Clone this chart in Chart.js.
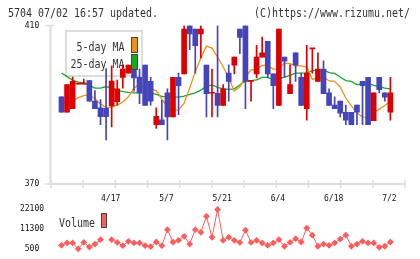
<!DOCTYPE html>
<html>
<head>
<meta charset="utf-8">
<script src="https://cdn.jsdelivr.net/npm/chart.js@4.4.1/dist/chart.umd.min.js"></script>
<style>
  html, body { margin: 0; padding: 0; background: #fff; }
  #wrap { position: relative; width: 420px; height: 259px; }
  #wrap canvas { position: absolute; left: 0; top: 0; }
</style>
</head>
<body>
<div id="wrap">
  <canvas id="price" width="420" height="259"></canvas>
  <canvas id="vol" width="420" height="259"></canvas>
</div>
<script>
const MONO = '"DejaVu Sans Mono", monospace';

// daily candles, 60 sessions
const opens  = [392.0, 388.1, 389.0, 395.2, 395.2, 396.1, 390.9, 389.2, 389.1, 389.7,
                390.8, 396.9, 398.0, 400.0, 396.9, 400.0, 395.9, 385.0, 386.2, 393.0,
                386.9, 396.9, 397.8, 410.0, 409.1, 407.9, 400.0, 392.9, 392.9, 389.8,
                398.0, 400.0, 409.1, 410.0, 395.9, 397.8, 402.0, 406.0, 397.8, 389.8,
                402.0, 392.8, 403.1, 396.9, 389.0, 404.1, 395.9, 399.0, 393.0, 389.9,
                390.9, 388.1, 388.1, 389.9, 395.9, 396.9, 386.0, 396.9, 393.0, 388.1];
const highs  = [392.0, 395.1, 397.0, 395.2, 396.5, 396.1, 393.6, 391.3, 399.1, 399.8,
                396.2, 400.1, 400.0, 400.0, 399.0, 400.0, 396.9, 389.2, 391.1, 394.0,
                396.9, 398.0, 410.0, 410.0, 409.1, 410.0, 400.0, 399.0, 410.0, 395.1,
                400.1, 402.0, 409.1, 410.0, 395.9, 405.0, 407.1, 406.0, 397.8, 409.1,
                402.0, 400.1, 403.1, 398.0, 405.0, 404.1, 403.1, 401.1, 394.0, 392.0,
                390.9, 389.9, 388.1, 389.9, 395.9, 396.9, 393.0, 396.9, 393.0, 396.9];
const lows   = [388.1, 388.1, 389.0, 395.2, 395.2, 390.9, 389.0, 385.0, 381.1, 384.4,
                389.9, 394.2, 398.0, 393.4, 390.3, 389.8, 389.9, 384.0, 385.0, 381.1,
                386.9, 387.5, 397.8, 403.9, 398.0, 401.8, 386.9, 386.9, 386.9, 389.8,
                390.9, 397.8, 402.9, 389.0, 390.9, 396.8, 402.0, 396.8, 389.0, 389.8,
                396.9, 392.8, 395.9, 389.8, 386.1, 398.0, 395.9, 392.8, 389.8, 389.0,
                386.9, 385.0, 385.0, 385.0, 385.0, 385.0, 386.0, 393.0, 390.9, 386.1];
const closes = [388.1, 395.1, 395.9, 395.2, 395.2, 390.9, 389.0, 387.0, 387.0, 396.0,
                394.0, 399.0, 400.0, 396.8, 393.0, 389.8, 390.9, 387.1, 385.0, 386.9,
                396.9, 394.8, 409.1, 407.9, 404.9, 409.1, 392.8, 392.9, 389.8, 394.0,
                395.9, 402.0, 407.0, 395.9, 395.9, 402.0, 403.1, 397.8, 394.8, 409.1,
                401.0, 395.1, 400.0, 389.8, 398.0, 404.1, 399.0, 392.8, 389.8, 389.0,
                387.9, 386.1, 385.0, 388.1, 394.8, 385.0, 393.0, 393.8, 391.9, 393.0];

const ma5  = [390.7, 390.6, 391.0, 391.8, 392.3, 392.5, 391.5, 390.2, 389.3, 389.4,
              389.9, 390.7, 392.0, 394.2, 395.2, 394.2, 394.2, 393.5, 391.5, 389.4,
              388.7, 388.7, 390.4, 394.2, 398.3, 401.8, 404.8, 404.3, 402.0, 399.6,
              396.8, 393.5, 394.5, 397.0, 398.8, 398.9, 399.9, 399.9, 399.0, 399.1,
              400.5, 400.4, 399.8, 399.8, 399.5, 396.4, 396.8, 397.0, 396.0, 395.9,
              394.5, 391.7, 389.7, 388.0, 386.9, 386.8, 387.9, 388.9, 389.8, 390.9];
const ma25 = [398.0, 397.1, 396.2, 395.7, 395.5, 394.9, 394.2, 394.2, 394.6, 394.2,
              393.7, 393.3, 393.1, 393.0, 393.0, 393.0, 393.0, 392.6, 392.1, 391.9,
              391.9, 391.9, 392.2, 392.6, 393.0, 393.7, 394.7, 395.0, 394.4, 394.0,
              393.9, 394.0, 395.0, 396.0, 396.1, 396.3, 396.9, 396.9, 396.3, 396.6,
              397.0, 397.4, 398.0, 398.0, 398.0, 398.6, 398.8, 398.8, 398.1, 397.9,
              397.0, 396.1, 395.9, 395.1, 395.2, 395.4, 394.9, 394.6, 394.2, 394.0];

const volumes = [2500, 3800, 3800, 600, 4100, 1600, 3200, 5600, null, 5600,
                 4100, 2300, 4700, 3800, 3800, 2300, 1800, 4300, 2300, 11000,
                 4300, 5200, 7400, 3200, 11000, 9600, 18300, 6900, 22000, 5200,
                 6900, 5200, 4100, 10700, 4100, 5200, 3800, 2500, 3800, 5600,
                 2000, 4100, 6100, 4300, 11900, 8000, 2000, 3200, 2500, 3800,
                 5900, 8000, 2000, 3200, 4700, 3800, 3800, 1400, 2000, 4300];

const dateTickIdx = [9, 19, 29, 39, 49, 59];
const dateTickLabels = ['4/17', '5/7', '5/21', '6/4', '6/18', '7/2'];
const priceTicks = [370, 410];
const volumeTicks = [500, 11300, 22100];

const UP = '#dd0000';
const DOWN = '#4444bb';
const ORANGE = '#f0901a';
const GREEN = '#18a828';
const VOLCOL = '#ff5c5c';
const AXIS = '#dddddd';

const candleColors = closes.map((c, i) => c >= opens[i] ? UP : DOWN);

// text is a bit narrower than DejaVu Sans Mono in the original
function squeezeText(ctx, text, x, y, size, align, color) {
  ctx.save();
  ctx.font = size + 'px ' + MONO;
  ctx.fillStyle = color;
  ctx.textAlign = align;
  ctx.textBaseline = 'alphabetic';
  ctx.translate(x, y);
  ctx.scale(0.83, 1);
  ctx.fillText(text, 0, 0);
  ctx.restore();
}

function smallText(ctx, text, x, y) {
  ctx.save();
  ctx.font = '8px ' + MONO;
  ctx.fillStyle = '#111';
  ctx.textAlign = 'center';
  ctx.textBaseline = 'middle';
  ctx.fillText(text, x, y);
  ctx.restore();
}

function swatch(ctx, x, y, w, h, fill) {
  ctx.save();
  ctx.fillStyle = fill;
  ctx.fillRect(x, y, w, h);
  ctx.strokeStyle = '#444';
  ctx.lineWidth = 1;
  ctx.strokeRect(x + 0.5, y + 0.5, w - 1, h - 1);
  ctx.restore();
}

const priceDeco = {
  id: 'priceDeco',
  beforeDatasetsDraw(chart) {
    const { ctx, chartArea: a } = chart;
    ctx.save();
    // axes
    ctx.strokeStyle = AXIS;
    ctx.lineWidth = 2;
    ctx.beginPath();
    ctx.moveTo(a.left - 0.5, a.top);
    ctx.lineTo(a.left - 0.5, a.bottom);
    ctx.lineTo(a.right, a.bottom);
    ctx.stroke();
    ctx.lineWidth = 1.5;
    for (let k = 0; k <= 11; k++) {
      const x = a.left + k * (a.right - a.left) / 11;
      ctx.beginPath();
      ctx.moveTo(x, a.bottom - 4);
      ctx.lineTo(x, a.bottom + 4);
      ctx.stroke();
    }
    priceTicks.forEach(v => {
      const y = chart.scales.y.getPixelForValue(v);
      ctx.beginPath();
      ctx.moveTo(a.left - 6, y);
      ctx.lineTo(a.left + 3, y);
      ctx.stroke();
    });
    // legend frame
    ctx.fillStyle = '#fff';
    ctx.fillRect(66, 31, 76, 45);
    ctx.strokeStyle = AXIS;
    ctx.lineWidth = 2;
    ctx.strokeRect(66, 31, 76, 45);
    ctx.restore();
  },
  afterDatasetsDraw(chart) {
    const { ctx, chartArea: a } = chart;
    squeezeText(ctx, '5-day MA', 124.5, 50.7, 12, 'right', '#333');
    squeezeText(ctx, '25-day MA', 124.5, 67.6, 12, 'right', '#333');
    swatch(ctx, 131, 37, 7, 16, ORANGE);
    swatch(ctx, 131, 54, 7, 16, GREEN);

    priceTicks.forEach(v => smallText(ctx, String(v), 32, chart.scales.y.getPixelForValue(v)));
    dateTickIdx.forEach((idx, k) => {
      smallText(ctx, dateTickLabels[k], chart.scales.x.getPixelForValue(idx) - 1, 198.5);
    });

    squeezeText(ctx, '5704 07/02 16:57 updated.', 8, 16.5, 12, 'left', '#333');
    squeezeText(ctx, '(C)https://www.rizumu.net/', 410, 16.5, 12, 'right', '#333');
  }
};

const volDeco = {
  id: 'volDeco',
  afterDatasetsDraw(chart) {
    const { ctx } = chart;
    volumeTicks.forEach(v => smallText(ctx, String(v), 32, chart.scales.y.getPixelForValue(v)));
    squeezeText(ctx, 'Volume', 59, 226.7, 12, 'left', '#333');
    swatch(ctx, 101, 213, 6, 15, VOLCOL);
  }
};

const xMin = -1.88;
const xMax = 61.62;

new Chart(document.getElementById('price'), {
  type: 'bar',
  data: {
    datasets: [
      {
        type: 'bar',
        data: opens.map((o, i) => ({ x: i, y: [Math.min(o, closes[i]), Math.max(o, closes[i])] })),
        backgroundColor: candleColors,
        barThickness: 5,
        minBarLength: 1,
        grouped: false,
        borderWidth: 0,
        order: 0
      },
      {
        type: 'bar',
        data: lows.map((l, i) => ({ x: i, y: [l, highs[i]] })),
        backgroundColor: candleColors,
        barThickness: 1,
        grouped: false,
        borderWidth: 0,
        order: 1
      },
      {
        type: 'line',
        data: ma5.map((v, i) => ({ x: i, y: v })),
        borderColor: ORANGE,
        borderWidth: 1.3,
        pointRadius: 0,
        tension: 0,
        order: 2
      },
      {
        type: 'line',
        data: ma25.map((v, i) => ({ x: i, y: v })),
        borderColor: GREEN,
        borderWidth: 1.3,
        pointRadius: 0,
        tension: 0,
        order: 3
      }
    ]
  },
  options: {
    responsive: false,
    animation: false,
    events: [],
    layout: { padding: { left: 51, right: 15, top: 25.5, bottom: 75 } },
    plugins: { legend: { display: false }, tooltip: { enabled: false } },
    scales: {
      x: { type: 'linear', min: xMin, max: xMax, offset: false, display: false },
      y: { type: 'linear', min: 370, max: 410, display: false }
    }
  },
  plugins: [priceDeco]
});

new Chart(document.getElementById('vol'), {
  type: 'line',
  data: {
    datasets: [{
      data: volumes.map((v, i) => ({ x: i, y: v })),
      borderColor: VOLCOL,
      borderWidth: 1,
      pointStyle: 'rectRot',
      pointRadius: 3.4,
      pointBackgroundColor: VOLCOL,
      pointBorderWidth: 0,
      spanGaps: false,
      tension: 0,
      clip: false
    }]
  },
  options: {
    responsive: false,
    animation: false,
    events: [],
    layout: { padding: { left: 51, right: 15, top: 209.3, bottom: 10 } },
    plugins: { legend: { display: false }, tooltip: { enabled: false } },
    scales: {
      x: { type: 'linear', min: xMin, max: xMax, offset: false, display: false },
      y: { type: 'linear', min: 500, max: 22100, display: false }
    }
  },
  plugins: [volDeco]
});
</script>
</body>
</html>
